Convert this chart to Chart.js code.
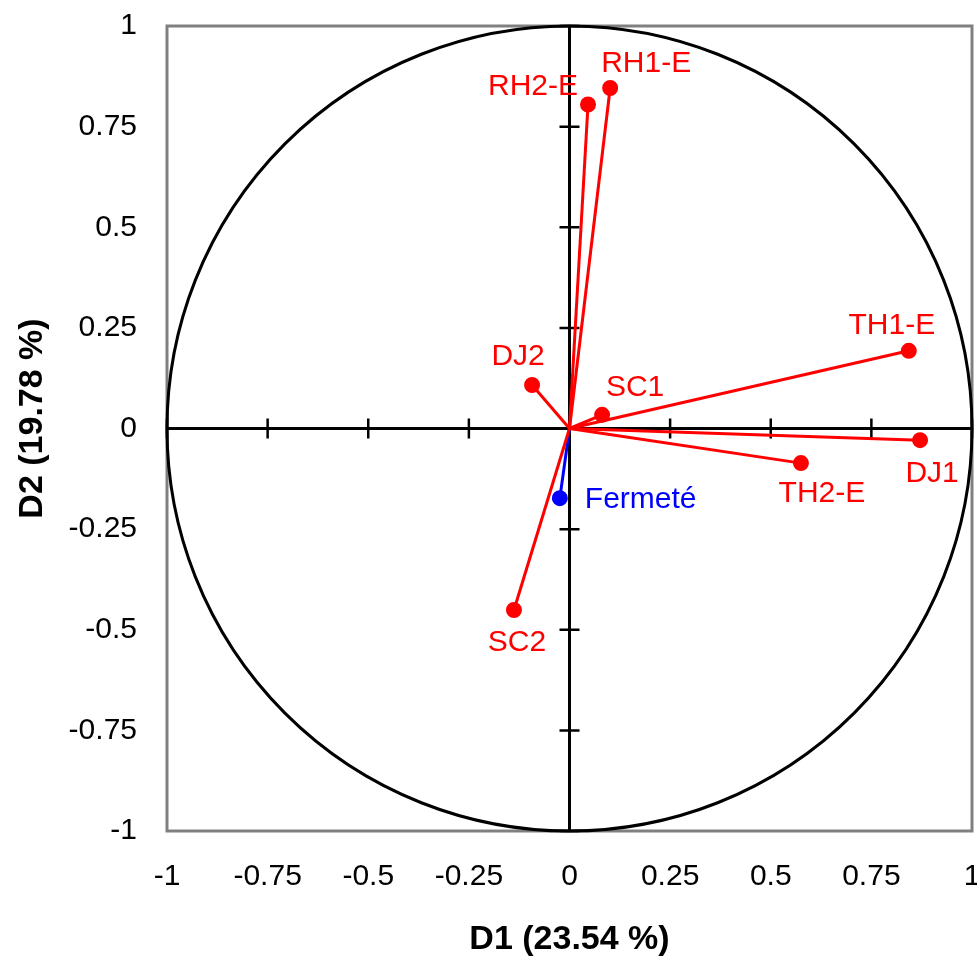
<!DOCTYPE html>
<html lang="fr">
  <head>
    <meta charset="UTF-8" />
    <title>Cercle des corrélations</title>
    <style>
      html, body { margin: 0; padding: 0; background: #fff; }
      .chart-container { position: relative; width: 977px; height: 957px; }
    </style>
  </head>
  <body>
    <div class="chart-container">
      <canvas id="pca"></canvas>
    </div>

    <script src="https://cdn.jsdelivr.net/npm/chart.js"></script>
    <script>
      // loadings of each variable on the first two axes
      const variables = ["RH1-E", "RH2-E", "TH1-E", "DJ1", "TH2-E", "SC1", "DJ2", "SC2", "Fermeté"];
      const d1 = [0.101, 0.046, 0.843, 0.871, 0.575, 0.081, -0.093, -0.138, -0.024];
      const d2 = [0.846, 0.805, 0.193, -0.029, -0.086, 0.034, 0.108, -0.451, -0.173];
      const axisTicks = [-1, -0.75, -0.5, -0.25, 0, 0.25, 0.5, 0.75, 1];
      const xTitle = "D1 (23.54 %)";
      const yTitle = "D2 (19.78 %)";

      const RED = "#ff0000";
      const BLUE = "#0000ff";
      const colors = variables.map((v) => (v === "Fermeté" ? BLUE : RED));

      // where each name sits relative to its point, in px
      const labelOffsets = {
        "RH1-E": [36, -24, "center"],
        "RH2-E": [-55, -18, "center"],
        "TH1-E": [-17, -25, "center"],
        "DJ1": [12, 34, "center"],
        "TH2-E": [21, 31, "center"],
        "SC1": [33, -27, "center"],
        "DJ2": [-14, -28, "center"],
        "SC2": [3, 33, "center"],
        "Fermeté": [25, 2, "left"],
      };

      const FONT = '"Liberation Sans", Arial, sans-serif';

      const circlePlugin = {
        id: "circle",
        beforeDatasetsDraw(chart) {
          const { ctx, chartArea: a } = chart;
          const x = chart.scales.x;
          const y = chart.scales.y;
          ctx.save();
          // grey frame
          ctx.strokeStyle = "#808080";
          ctx.lineWidth = 3;
          ctx.strokeRect(a.left, a.top, a.right - a.left, a.bottom - a.top);

          const cx = x.getPixelForValue(0);
          const cy = y.getPixelForValue(0);

          // unit circle
          ctx.strokeStyle = "#000";
          ctx.lineWidth = 3;
          ctx.beginPath();
          ctx.ellipse(cx, cy, x.getPixelForValue(1) - cx, cy - y.getPixelForValue(1), 0, 0, 2 * Math.PI);
          ctx.stroke();

          // zero axes
          ctx.lineWidth = 3;
          ctx.beginPath();
          ctx.moveTo(a.left, cy);
          ctx.lineTo(a.right, cy);
          ctx.moveTo(cx, a.top);
          ctx.lineTo(cx, a.bottom);
          ctx.stroke();

          // small tick marks on the zero axes
          ctx.lineWidth = 2.5;
          ctx.beginPath();
          x.ticks.forEach((t) => {
            const px = x.getPixelForValue(t.value);
            ctx.moveTo(px, cy - 10);
            ctx.lineTo(px, cy + 10);
          });
          y.ticks.forEach((t) => {
            const py = y.getPixelForValue(t.value);
            ctx.moveTo(cx - 10, py);
            ctx.lineTo(cx + 10, py);
          });
          ctx.stroke();
          ctx.restore();
        },
        afterDatasetsDraw(chart) {
          const { ctx, chartArea: a } = chart;
          const x = chart.scales.x;
          const y = chart.scales.y;
          ctx.save();
          ctx.font = "30px " + FONT;
          ctx.textBaseline = "middle";
          variables.forEach((name, i) => {
            const [dx, dy, align] = labelOffsets[name];
            ctx.fillStyle = colors[i];
            ctx.textAlign = align;
            ctx.fillText(name, x.getPixelForValue(d1[i]) + dx, y.getPixelForValue(d2[i]) + dy);
          });

          // vertical axis title, sits a little above the middle
          ctx.fillStyle = "#000";
          ctx.font = "bold 34px " + FONT;
          ctx.textAlign = "center";
          ctx.translate(33, (a.top + a.bottom) / 2 - 10);
          ctx.rotate(-Math.PI / 2);
          ctx.fillText(yTitle, 0, 0);
          ctx.restore();
        },
      };

      const setTicks = (scale) => {
        scale.ticks = axisTicks.map((v) => ({ value: v }));
      };
      const tickText = (value) => String(value);

      new Chart(document.getElementById("pca"), {
        type: "scatter",
        data: {
          datasets: variables.map((name, i) => ({
            label: name,
            data: [
              { x: 0, y: 0 },
              { x: d1[i], y: d2[i] },
            ],
            showLine: true,
            borderColor: colors[i],
            backgroundColor: colors[i],
            borderWidth: 3,
            pointRadius: [0, 6.5],
            pointHoverRadius: [0, 6.5],
          })),
        },
        options: {
          responsive: true,
          maintainAspectRatio: false,
          animation: false,
          layout: { autoPadding: false, padding: { top: 26, right: 5, left: 0, bottom: 0 } },
          plugins: {
            legend: { display: false },
            tooltip: { enabled: false },
          },
          scales: {
            x: {
              min: -1,
              max: 1,
              afterBuildTicks: setTicks,
              afterFit: (s) => {
                s.height = 126;
                s.paddingLeft = 0;
                s.paddingRight = 0;
              },
              grid: { display: false, drawTicks: false },
              border: { display: false },
              ticks: { color: "#000", font: { family: FONT, size: 30 }, padding: 28, maxRotation: 0, callback: tickText },
              title: {
                display: true,
                text: xTitle,
                color: "#000",
                font: { family: FONT, size: 34, weight: "bold" },
                padding: { top: 0, bottom: -3 },
              },
            },
            y: {
              min: -1,
              max: 1,
              afterBuildTicks: setTicks,
              afterFit: (s) => {
                s.width = 167;
                s.paddingTop = 0;
                s.paddingBottom = 0;
              },
              grid: { display: false, drawTicks: false },
              border: { display: false },
              ticks: { color: "#000", font: { family: FONT, size: 30 }, padding: 30, callback: tickText },
            },
          },
        },
        plugins: [circlePlugin],
      });
    </script>
  </body>
</html>
